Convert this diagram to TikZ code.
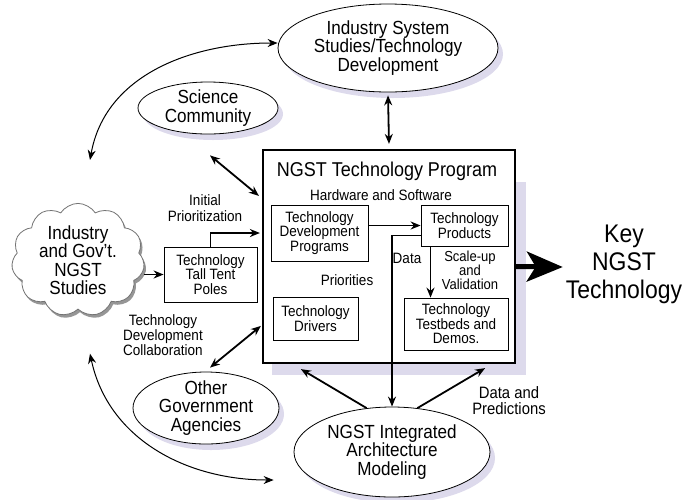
\documentclass[tikz,border=0pt]{standalone}
\usepackage{fontspec}
\setmainfont[FakeStretch=0.9]{Liberation Sans}
\usetikzlibrary{positioning, arrows.meta, calc, shapes.geometric, shapes.symbols, shadows}

\definecolor{lavender}{RGB}{221,218,236}
\definecolor{puffshade}{RGB}{150,150,150}

\tikzset{
  blob/.style={ellipse, draw, line width=0.8pt, fill=white, align=center, inner sep=-2pt,
    font=\fontsize{19}{18.5}\selectfont,
    drop shadow={shadow xshift=5pt, shadow yshift=-6pt, fill=lavender, opacity=1}},
  techbox/.style={draw, line width=0.8pt, fill=white, align=center, inner sep=1pt,
    font=\fontsize{15}{14.5}\selectfont},
  note/.style={align=center, inner sep=1pt, font=\fontsize{15}{15}\selectfont},
  link/.style={line width=1.8pt, -{Stealth[length=10pt, width=8pt]}},
  twolink/.style={line width=1.8pt, {Stealth[length=10pt, width=8pt]}-{Stealth[length=10pt, width=8pt]}},
  swoop/.style={line width=1pt, {Stealth[length=10pt, width=8pt]}-{Stealth[length=10pt, width=8pt]}},
}

\begin{document}
\begin{tikzpicture}[x=1pt, y=-1pt]
  \useasboundingbox (0,0) rectangle (687,499);

  % Programm-Rahmen mit Schatten
  \fill[lavender] (272,182) rectangle (526,375);
  \node[draw, line width=2.2pt, fill=white, minimum width=252pt, minimum height=213pt] (prog) at (389,256.5) {};
  \node[font=\fontsize{20}{20}\selectfont] (title) at (387,171) {NGST Technology Program};
  \node[note] (hw) at (381,195) {Hardware and Software};

  % Kaestchen im Rahmen
  \node[techbox, minimum width=97pt, minimum height=56pt] (tdp) at (319.5,233) {Technology\\Development\\Programs};
  \node[techbox, minimum width=87pt, minimum height=41pt] (tp) at (464.5,225.5) {Technology\\Products};
  \node[techbox, minimum width=104pt, minimum height=52pt] (tb) at (456,324) {Technology\\Testbeds and\\Demos.};
  \node[techbox, minimum width=85pt, minimum height=43pt] (drv) at (315.5,318.5) {Technology\\Drivers};
  \node[note] (prio) at (347,280) {Priorities};
  \node[note] (data) at (407,258) {Data};
  \node[note, font=\fontsize{14.5}{13.5}\selectfont] (scale) at (470,270) {Scale-up\\and\\Validation};

  % Ellipsen
  \node[blob, minimum width=220pt, minimum height=88pt] (indsys) at (388,48) {Industry System\\Studies/Technology\\Development};
  \node[blob, minimum width=140pt, minimum height=52pt] (sci) at (208,108) {Science\\Community};
  \node[blob, minimum width=146pt, minimum height=72pt] (other) at (206,408) {Other\\Government\\Agencies};
  \node[blob, minimum width=196pt, minimum height=90pt] (iam) at (392,452) {NGST Integrated\\Architecture\\Modeling};

  % Wolke
  \node[cloud, cloud puffs=11, cloud puff arc=115, aspect=1.25, draw=black!55, line width=0.8pt, fill=white,
        minimum width=133pt, minimum height=108pt, inner sep=0pt, align=center,
        font=\fontsize{19}{18.5}\selectfont,
        drop shadow={shadow xshift=2pt, shadow yshift=-3pt, fill=puffshade, opacity=1}]
        (cloud) at (78,260) {Industry\\and Gov't.\\NGST\\Studies};
  \node[techbox, minimum width=93pt, minimum height=55pt] (ttp) at (210.5,274.5) {Technology\\Tall Tent\\Poles};

  % Beschriftungen aussen
  \node[note, font=\fontsize{15}{16}\selectfont] (init) at (205,208) {Initial\\Prioritization};
  \node[note, font=\fontsize{15}{15}\selectfont] (collab) at (163,335) {Technology\\Development\\Collaboration};
  \node[note, font=\fontsize{16.5}{16}\selectfont] (pred) at (509,401) {Data and\\Predictions};
  \node[align=center, inner sep=1pt, font=\fontsize{25.5}{28}\selectfont] (key) at (624,264) {Key\\NGST\\Technology};

  % Verbindungen
  \draw[twolink] ([yshift=-3pt]indsys.south) -- ([yshift=5pt]prog.north);
  \draw[twolink] ([shift={(2,21)}]sci.south) -- ([shift={(-3,47)}]prog.north west);
  \draw[twolink] ([shift={(4,-4)}]other.north) -- ([shift={(-1,177)}]prog.north west);
  \draw[link] (iam.120) -- ([shift={(39,5)}]prog.south west);
  \draw[link] (iam.60) -- ([shift={(-31,4)}]prog.south east);
  \draw[link] ([yshift=-10pt]tp.west) -| (iam.north);
  \draw[link] (tdp.east |- tp.west) -- (tp.west);
  \draw[link] ([xshift=-34pt]tp.south) -- ([xshift=-34pt]tp.south |- tb.north);
  \draw[link] (ttp.north) |- ([xshift=-2pt]prog.west |- tdp.west);
  \draw[link] (cloud.east |- ttp.west) -- (ttp.west);
  \draw[line width=5pt, -{Stealth[length=36pt, width=30pt, inset=9pt]}] ([yshift=-10pt]prog.east) -- ([xshift=-2pt]key.west |- 0,267);

  % Boegen
  \draw[swoop] ([shift={(12,-43)}]cloud.north) to[out=80, in=180] ([yshift=5pt]indsys.west);
  \draw[swoop] ([shift={(12,44)}]cloud.south) to[out=-78, in=180] ([shift={(-20,28)}]iam.west);
\end{tikzpicture}
\end{document}
